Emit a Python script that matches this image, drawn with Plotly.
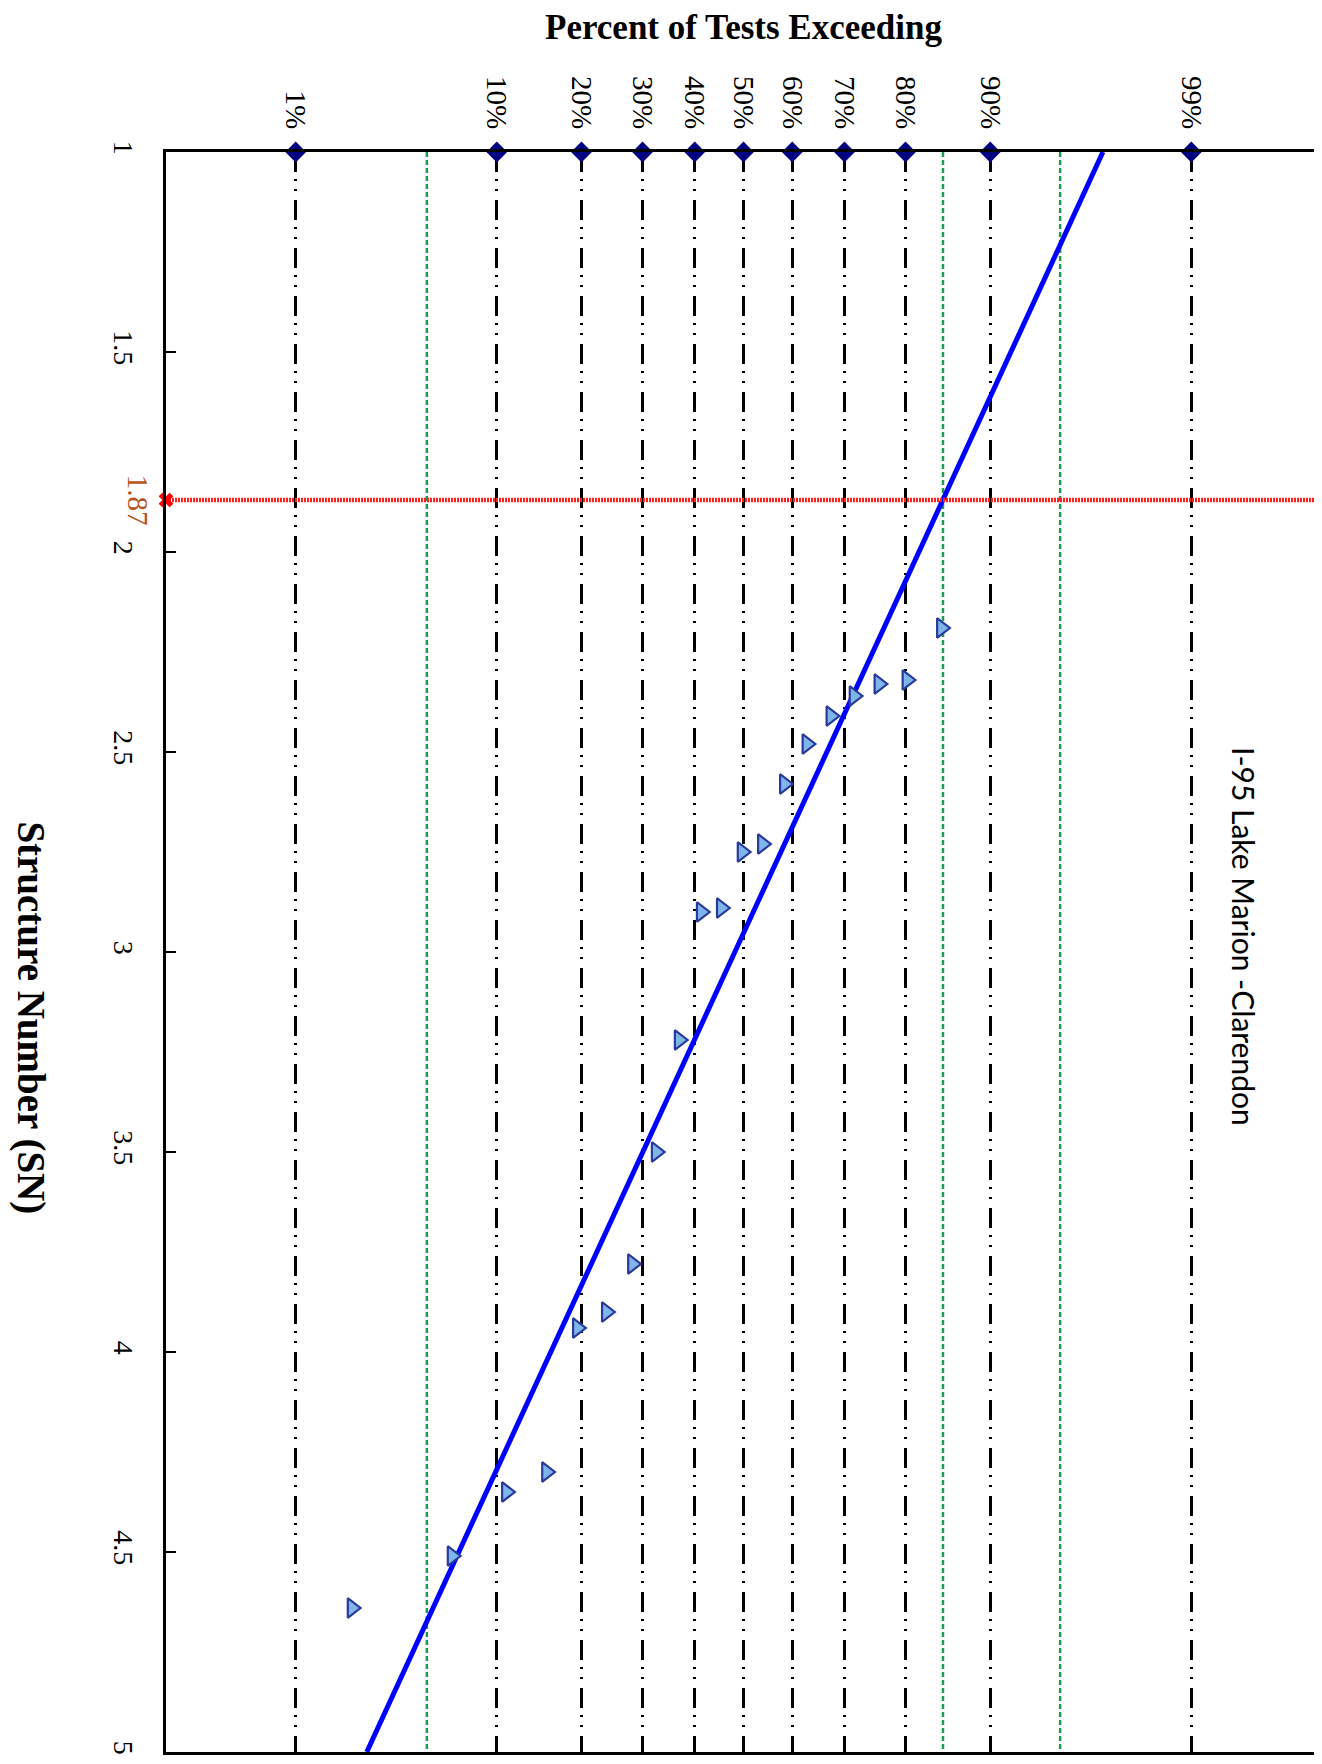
import plotly.graph_objects as go
from statistics import NormalDist

# ---------------- data ----------------
PCT_TICKS = [1, 10, 20, 30, 40, 50, 60, 70, 80, 90, 99]
PCT_LABELS = ["1%", "10%", "20%", "30%", "40%", "50%", "60%", "70%", "80%", "90%", "99%"]
GREEN_PCTS = [5, 85, 95]
SN_TICKS = [1, 1.5, 2, 2.5, 3, 3.5, 4, 4.5, 5]
SN_LABELS = ["1", "1.5", "2", "2.5", "3", "3.5", "4", "4.5", "5"]

# observed tests: structure number and percent of tests exceeding
SN_DATA = [2.19, 2.32, 2.33, 2.36, 2.41, 2.48, 2.58, 2.73, 2.75, 2.89,
           2.90, 3.22, 3.50, 3.78, 3.90, 3.94, 4.30, 4.35, 4.51, 4.64]
PCT_DATA = [84.8, 80.2, 75.9, 71.7, 67.5, 62.9, 58.4, 53.9, 49.7, 45.4,
            41.3, 36.9, 32.5, 28.2, 23.8, 19.4, 15.3, 10.9, 6.5, 2.1]

# fitted normal distribution of SN
FIT_MEAN = 2.953
FIT_STD = 1.046
FIT_SN_RANGE = [1, 5]

SN_CRIT = 1.87
SITE_LABEL = "I-95 Lake Marion -Clarendon"

nd = NormalDist()


def zq(p):
    return nd.inv_cdf(p / 100.0)


SERIF = "Liberation Serif, Times New Roman, serif"

fig = go.Figure()

# green reference lines
for gp in GREEN_PCTS:
    fig.add_trace(go.Scatter(
        x=[zq(gp), zq(gp)], y=[1, 5], mode="lines",
        line=dict(color="#1f9a52", width=2.5, dash="5px,3px"),
        hoverinfo="skip", showlegend=False))

# fitted line
fit_z = [(FIT_MEAN - s) / FIT_STD for s in FIT_SN_RANGE]
fig.add_trace(go.Scatter(
    x=fit_z, y=FIT_SN_RANGE, mode="lines",
    line=dict(color="#0000ff", width=5), showlegend=False))

# red critical line
fig.add_trace(go.Scatter(
    x=[-3, 3], y=[SN_CRIT, SN_CRIT], mode="lines",
    line=dict(color="#ff2020", width=4.5, dash="2px,1px"), showlegend=False))

# data points
fig.add_trace(go.Scatter(
    x=[zq(p) for p in PCT_DATA], y=SN_DATA, mode="markers",
    marker=dict(symbol="triangle-right", size=17, color="#7fb6ea",
                line=dict(color="#2a3a9c", width=2.2)),
    showlegend=False))

# diamonds at percent ticks on the top border
fig.add_trace(go.Scatter(
    x=[zq(p) for p in PCT_TICKS], y=[1] * len(PCT_TICKS), mode="markers",
    marker=dict(symbol="diamond", size=16, color="#000080"),
    cliponaxis=False, showlegend=False))

# red x at left axis
fig.add_trace(go.Scatter(
    x=[-3], y=[SN_CRIT], mode="markers",
    marker=dict(symbol="x", size=13, color="#ff0000"),
    cliponaxis=False, showlegend=False))

fig.update_layout(
    width=1322, height=1764,
    margin=dict(l=158, r=9, t=144, b=20),
    plot_bgcolor="white", paper_bgcolor="white",
    xaxis=dict(
        range=[-3, 3], side="top", automargin=False,
        tickvals=[zq(p) for p in PCT_TICKS], ticktext=PCT_LABELS,
        tickangle=90, tickfont=dict(family=SERIF, size=29, color="black"),
        showgrid=True, gridcolor="black", gridwidth=2.5,
        griddash="20px,7px,2px,8px,2px,9px",
        showline=True, linecolor="black", linewidth=2.5, mirror=True,
        ticks="", zeroline=False, ticklabelstandoff=10),
    yaxis=dict(
        range=[5, 1], tickvals=SN_TICKS, ticktext=SN_LABELS, automargin=False,
        tickangle=90, tickfont=dict(family=SERIF, size=28, color="black"),
        showgrid=False, zeroline=False,
        showline=True, linecolor="black", linewidth=2.5, mirror=True,
        ticks="inside", ticklen=10, tickwidth=1.5, tickcolor="black",
        ticklabelstandoff=16),
    annotations=[
        dict(text="<b>Percent of Tests Exceeding</b>", xref="paper", yref="paper",
             x=0.5, y=1.078, xanchor="center", yanchor="middle", showarrow=False,
             font=dict(family=SERIF, size=35, color="black")),
        dict(text="<b>Structure Number (SN)</b>", xref="paper", yref="paper",
             x=-0.117, y=0.4586, xanchor="center", yanchor="middle", showarrow=False,
             textangle=90, font=dict(family=SERIF, size=39, color="black")),
        dict(text=SITE_LABEL, xref="x", yref="y", x=2.60, y=2.96,
             xanchor="center", yanchor="middle", showarrow=False, textangle=90,
             font=dict(family="Lato, Liberation Sans, sans-serif", size=30, color="black")),
        dict(text=f"{SN_CRIT:.2f}", xref="paper", yref="y", x=-0.024, y=SN_CRIT,
             xanchor="center", yanchor="middle", showarrow=False, textangle=90,
             font=dict(family=SERIF, size=29, color="#b5541c")),
    ],
)

fig.write_html("out.html")
